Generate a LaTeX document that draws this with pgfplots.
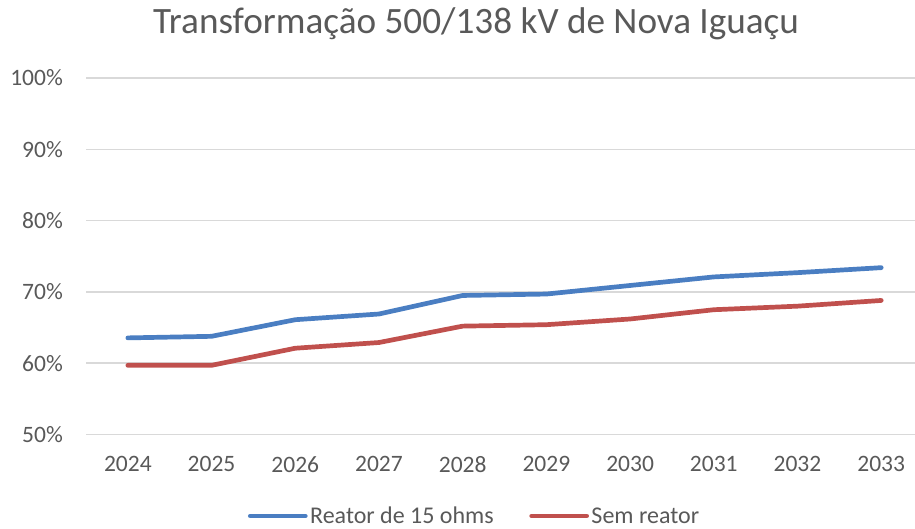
\documentclass[border=0pt]{standalone}
\usepackage{pgfplots}
\pgfplotsset{compat=1.18}
\usepackage{fontspec}
\setmainfont{Carlito}
\definecolor{txt}{HTML}{595959}
\definecolor{grid}{HTML}{D9D9D9}
\definecolor{sblue}{HTML}{4A7EC2}
\definecolor{sred}{HTML}{C0504D}
\begin{document}
\begin{tikzpicture}[x=1pt,y=1pt]
\path[use as bounding box] (0,0) rectangle (915,528);
\begin{axis}[
  at={(86pt,93.5pt)}, anchor=south west,
  scale only axis, width=829pt, height=356.5pt,
  xmin=-0.5, xmax=9.404, ymin=50, ymax=100,
  axis line style={draw=none},
  major tick length=0pt,
  ymajorgrids, grid style={draw=grid, line width=1.5pt},
  ytick={50,60,70,80,90,100},
  yticklabels={50\%,60\%,70\%,80\%,90\%,100\%},
  xtick={0,...,9},
  xticklabels={2024,2025,2026,2027,2028,2029,2030,2031,2032,2033},
  yticklabel style={font=\fontsize{23.5}{27}\selectfont, text=txt, inner sep=0pt, anchor=east, xshift=-23pt},
  xticklabel style={font=\fontsize{23.5}{27}\selectfont, text=txt, inner sep=0pt, anchor=north, yshift=-22pt},
  title={Transformação 500/138 kV de Nova Iguaçu},
  title style={font=\fontsize{37.2}{41}\selectfont, text=txt, at={(0.4705,1.1066)}, anchor=base, inner sep=0pt},
  legend columns=2,
  legend style={draw=none, fill=none, at={(0.469,-0.2286)}, anchor=center,
    font=\fontsize{24}{28}\selectfont, text=txt,
    nodes={inner xsep=2.5pt, inner ysep=0pt},
    /tikz/every even column/.append style={column sep=33pt}},
  legend cell align=left,
  legend image code/.code={\draw[#1, line cap=round] (0pt,0pt) -- (55pt,0pt);},
  every axis plot/.append style={line width=4.7pt, line join=round, line cap=round},
]
\addplot[sblue] coordinates {(0,63.55) (1,63.77) (2,66.1) (3,66.9) (4,69.5) (5,69.7) (6,70.9) (7,72.1) (8,72.7) (9,73.4)};
\addlegendentry{Reator de 15 ohms}
\addplot[sred] coordinates {(0,59.7) (1,59.7) (2,62.1) (3,62.9) (4,65.2) (5,65.4) (6,66.2) (7,67.5) (8,68.0) (9,68.8)};
\addlegendentry{Sem reator}
\end{axis}
\end{tikzpicture}
\end{document}
